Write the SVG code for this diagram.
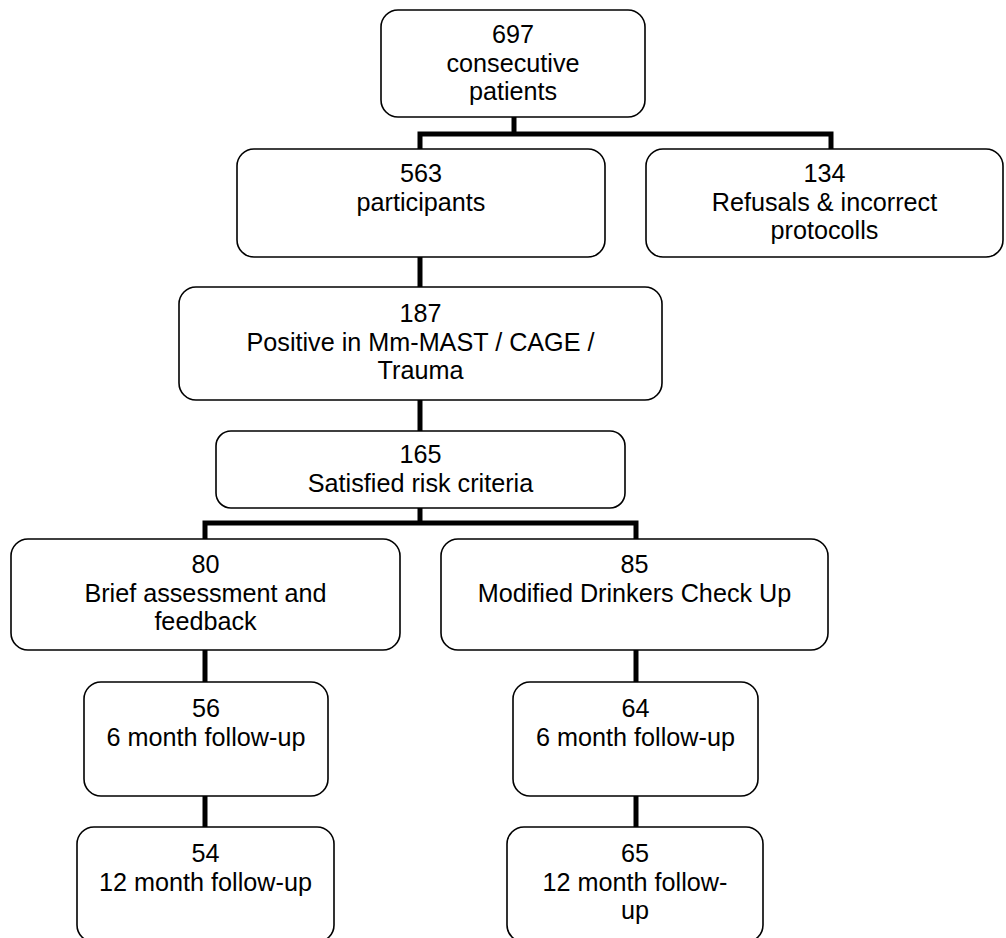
<svg xmlns="http://www.w3.org/2000/svg" width="1006" height="938" viewBox="0 0 1006 938">
<style>
.box{fill:#fff;stroke:#000;stroke-width:1.6}
.lbl{font-family:"Liberation Sans",Arial,sans-serif;font-size:25.2px;fill:#000;text-anchor:middle}
.conn{fill:none;stroke:#000;stroke-width:5;stroke-linejoin:miter;stroke-linecap:butt}
</style>
<rect width="1006" height="938" fill="#fff"/>
<g id="connectors">
<path class="conn" d="M514,117 V134"/>
<path class="conn" d="M420,149 V134 H831 V149"/>
<path class="conn" d="M420,257 V287"/>
<path class="conn" d="M420,400 V431"/>
<path class="conn" d="M420,508 V523"/>
<path class="conn" d="M205,539 V523 H636 V539"/>
<path class="conn" d="M205,650 V682"/>
<path class="conn" d="M205,796 V827"/>
<path class="conn" d="M636,650 V682"/>
<path class="conn" d="M636,796 V827"/>
</g>
<g id="n697">
<rect class="box" x="381" y="10" width="264" height="107" rx="17"/>
<text class="lbl" x="513" y="43"><tspan x="513">697</tspan><tspan x="513" dy="28.5">consecutive</tspan><tspan x="513" dy="28.5">patients</tspan></text>
</g>
<g id="n563">
<rect class="box" x="237" y="149" width="368" height="108" rx="17"/>
<text class="lbl" x="421" y="182"><tspan x="421">563</tspan><tspan x="421" dy="28.5">participants</tspan></text>
</g>
<g id="n134">
<rect class="box" x="646" y="149" width="357" height="108" rx="17"/>
<text class="lbl" x="824.5" y="182"><tspan x="824.5">134</tspan><tspan x="824.5" dy="28.5">Refusals &amp; incorrect</tspan><tspan x="824.5" dy="28.5">protocolls</tspan></text>
</g>
<g id="n187">
<rect class="box" x="179" y="287" width="483" height="113" rx="17"/>
<text class="lbl" x="420.5" y="322"><tspan x="420.5">187</tspan><tspan x="420.5" dy="28.5">Positive in Mm-MAST / CAGE /</tspan><tspan x="420.5" dy="28.5">Trauma</tspan></text>
</g>
<g id="n165">
<rect class="box" x="216" y="431" width="409" height="77" rx="15"/>
<text class="lbl" x="420.5" y="463"><tspan x="420.5">165</tspan><tspan x="420.5" dy="28.5">Satisfied risk criteria</tspan></text>
</g>
<g id="n80">
<rect class="box" x="11" y="539" width="389" height="111" rx="17"/>
<text class="lbl" x="205.5" y="573"><tspan x="205.5">80</tspan><tspan x="205.5" dy="28.5">Brief assessment and</tspan><tspan x="205.5" dy="28.5">feedback</tspan></text>
</g>
<g id="n85">
<rect class="box" x="441" y="539" width="387" height="111" rx="17"/>
<text class="lbl" x="634.5" y="573"><tspan x="634.5">85</tspan><tspan x="634.5" dy="28.5">Modified Drinkers Check Up</tspan></text>
</g>
<g id="n56">
<rect class="box" x="84" y="682" width="244" height="114" rx="17"/>
<text class="lbl" x="206" y="717"><tspan x="206">56</tspan><tspan x="206" dy="28.5">6 month follow-up</tspan></text>
</g>
<g id="n64">
<rect class="box" x="513" y="682" width="245" height="114" rx="17"/>
<text class="lbl" x="635.5" y="717"><tspan x="635.5">64</tspan><tspan x="635.5" dy="28.5">6 month follow-up</tspan></text>
</g>
<g id="n54">
<rect class="box" x="77" y="827" width="257" height="115" rx="17"/>
<text class="lbl" x="205.5" y="862"><tspan x="205.5">54</tspan><tspan x="205.5" dy="28.5">12 month follow-up</tspan></text>
</g>
<g id="n65">
<rect class="box" x="507" y="827" width="256" height="115" rx="17"/>
<text class="lbl" x="635" y="862"><tspan x="635">65</tspan><tspan x="635" dy="28.5">12 month follow-</tspan><tspan x="635" dy="28.5">up</tspan></text>
</g>
</svg>
